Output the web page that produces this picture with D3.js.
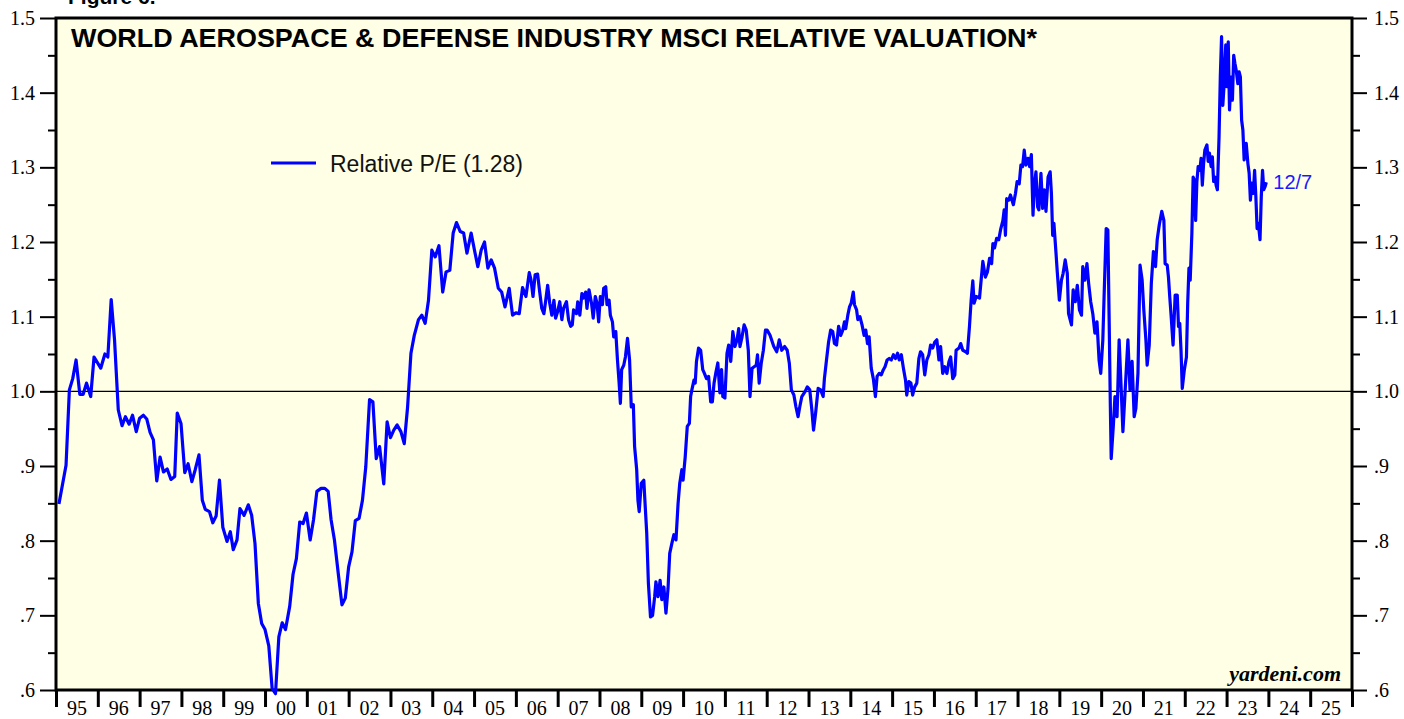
<!DOCTYPE html>
<html>
<head>
<meta charset="utf-8">
<script src="https://cdn.jsdelivr.net/npm/d3@7"></script>
<style>
  body { margin: 0; background: #fff; }
  svg { display: block; }
</style>
</head>
<body>
<script>
// Relative P/E readings, [decimal year, value], split by period
const pe1995_1999 = [
  [1995.07,0.849],[1995.24,0.901],[1995.32,1.002],[1995.40,1.017],[1995.48,1.042],[1995.57,0.996],
  [1995.65,0.996],[1995.73,1.011],[1995.83,0.993],[1995.91,1.046],[1996.07,1.031],[1996.17,1.050],
  [1996.24,1.046],[1996.32,1.123],[1996.40,1.069],[1996.49,0.975],[1996.58,0.954],[1996.66,0.966],
  [1996.75,0.956],[1996.83,0.968],[1996.92,0.946],[1997.00,0.964],[1997.09,0.968],[1997.17,0.963],
  [1997.25,0.945],[1997.33,0.935],[1997.41,0.880],[1997.49,0.912],[1997.57,0.892],[1997.66,0.896],
  [1997.75,0.882],[1997.84,0.886],[1997.90,0.971],[1997.99,0.957],[1998.08,0.891],[1998.16,0.903],
  [1998.25,0.879],[1998.33,0.895],[1998.42,0.915],[1998.50,0.854],[1998.57,0.842],[1998.67,0.839],
  [1998.75,0.824],[1998.83,0.833],[1998.91,0.881],[1998.99,0.818],[1999.09,0.799],[1999.17,0.812],
  [1999.24,0.788],[1999.33,0.801],[1999.40,0.843],[1999.50,0.834],[1999.60,0.848],[1999.68,0.834],
  [1999.76,0.796],[1999.84,0.716],[1999.92,0.689]
];
const pe2000_2005 = [
  [2000.00,0.681],[2000.09,0.659],[2000.17,0.602],[2000.25,0.595],[2000.33,0.671],[2000.41,0.690],
  [2000.49,0.681],[2000.59,0.712],[2000.67,0.755],[2000.75,0.776],[2000.83,0.825],[2000.91,0.823],
  [2000.99,0.837],[2001.08,0.801],[2001.16,0.828],[2001.24,0.866],[2001.34,0.870],[2001.43,0.870],
  [2001.51,0.866],[2001.58,0.828],[2001.66,0.801],[2001.76,0.752],[2001.84,0.714],[2001.92,0.723],
  [2002.00,0.765],[2002.08,0.785],[2002.16,0.827],[2002.25,0.830],[2002.33,0.854],[2002.41,0.899],
  [2002.50,0.989],[2002.58,0.986],[2002.66,0.910],[2002.74,0.926],[2002.84,0.876],[2002.92,0.959],
  [2003.00,0.938],[2003.08,0.948],[2003.16,0.955],[2003.25,0.946],[2003.33,0.930],[2003.41,0.979],
  [2003.49,1.051],[2003.57,1.075],[2003.67,1.096],[2003.75,1.102],[2003.83,1.091],[2003.91,1.122],
  [2003.99,1.189],[2004.07,1.180],[2004.16,1.195],[2004.25,1.133],[2004.33,1.160],[2004.42,1.162],
  [2004.50,1.212],[2004.58,1.226],[2004.67,1.214],[2004.75,1.212],[2004.83,1.185],[2004.93,1.212],
  [2005.01,1.189],[2005.09,1.167],[2005.17,1.189],[2005.25,1.200],[2005.33,1.165],[2005.41,1.176],
  [2005.49,1.165],[2005.58,1.138],[2005.66,1.133],[2005.74,1.113],[2005.84,1.138],[2005.92,1.102]
];
const pe2006_2011 = [
  [2006.00,1.105],[2006.08,1.104],[2006.16,1.139],[2006.24,1.127],[2006.32,1.159],[2006.36,1.150],
  [2006.41,1.127],[2006.46,1.156],[2006.52,1.157],[2006.57,1.133],[2006.62,1.111],[2006.67,1.104],
  [2006.71,1.120],[2006.76,1.142],[2006.81,1.118],[2006.86,1.102],[2006.91,1.122],[2006.95,1.098],
  [2007.00,1.107],[2007.05,1.120],[2007.10,1.096],[2007.14,1.111],[2007.21,1.120],[2007.26,1.096],
  [2007.31,1.087],[2007.35,1.089],[2007.38,1.109],[2007.45,1.104],[2007.48,1.120],[2007.53,1.102],
  [2007.58,1.131],[2007.62,1.125],[2007.67,1.133],[2007.70,1.111],[2007.75,1.136],[2007.81,1.118],
  [2007.85,1.098],[2007.90,1.127],[2007.94,1.118],[2007.98,1.093],[2008.02,1.127],[2008.07,1.116],
  [2008.10,1.138],[2008.15,1.140],[2008.18,1.116],[2008.23,1.122],[2008.26,1.102],[2008.31,1.093],
  [2008.34,1.073],[2008.39,1.080],[2008.43,1.042],[2008.47,1.011],[2008.50,0.984],[2008.53,1.029],
  [2008.58,1.035],[2008.62,1.046],[2008.67,1.071],[2008.72,1.042],[2008.76,0.979],[2008.81,0.982],
  [2008.84,0.926],[2008.89,0.895],[2008.92,0.854],[2008.95,0.839],[2009.00,0.877],[2009.06,0.881],
  [2009.09,0.850],[2009.13,0.810],[2009.17,0.743],[2009.22,0.698],[2009.27,0.700],[2009.32,0.725],
  [2009.35,0.745],[2009.40,0.725],[2009.45,0.747],[2009.49,0.721],[2009.54,0.738],[2009.59,0.703],
  [2009.64,0.736],[2009.68,0.783],[2009.73,0.796],[2009.78,0.808],[2009.83,0.801],[2009.88,0.850],
  [2009.92,0.877],[2009.97,0.895],[2010.00,0.881],[2010.05,0.912],[2010.10,0.953],[2010.15,0.957],
  [2010.18,0.993],[2010.21,1.002],[2010.26,1.015],[2010.29,1.011],[2010.32,1.040],[2010.37,1.058],
  [2010.42,1.055],[2010.47,1.029],[2010.51,1.024],[2010.56,1.017],[2010.61,1.020],[2010.66,0.986],
  [2010.70,0.986],[2010.74,1.011],[2010.78,1.024],[2010.83,1.038],[2010.88,0.998],[2010.92,1.029],
  [2010.95,0.993],[2011.00,0.991],[2011.05,1.051],[2011.09,1.062],[2011.14,1.040],[2011.19,1.080],
  [2011.24,1.060],[2011.29,1.069],[2011.33,1.084],[2011.36,1.060],[2011.41,1.073],[2011.46,1.089],
  [2011.51,1.082],[2011.56,1.055],[2011.60,0.993],[2011.65,1.031],[2011.70,1.033],[2011.75,1.035],
  [2011.78,1.049],[2011.82,1.011],[2011.87,1.038],[2011.92,1.055],[2011.97,1.082]
];
const pe2012_2016 = [
  [2012.01,1.082],[2012.08,1.075],[2012.17,1.060],[2012.24,1.053],[2012.30,1.069],[2012.36,1.055],
  [2012.43,1.060],[2012.49,1.055],[2012.54,1.038],[2012.59,1.002],[2012.65,0.995],[2012.70,0.979],
  [2012.75,0.966],[2012.79,0.979],[2012.84,0.993],[2012.92,1.000],[2012.97,1.006],[2013.03,1.002],
  [2013.08,0.975],[2013.12,0.948],[2013.17,0.971],[2013.23,1.004],[2013.29,1.002],[2013.35,0.993],
  [2013.38,1.017],[2013.43,1.042],[2013.48,1.066],[2013.53,1.082],[2013.58,1.080],[2013.62,1.064],
  [2013.67,1.062],[2013.72,1.087],[2013.77,1.075],[2013.82,1.082],[2013.86,1.093],[2013.89,1.084],
  [2013.94,1.102],[2013.98,1.113],[2014.02,1.118],[2014.07,1.133],[2014.10,1.116],[2014.15,1.109],
  [2014.18,1.096],[2014.23,1.100],[2014.28,1.089],[2014.33,1.075],[2014.37,1.082],[2014.41,1.064],
  [2014.45,1.073],[2014.50,1.031],[2014.55,1.017],[2014.60,0.993],[2014.64,1.020],[2014.69,1.024],
  [2014.74,1.022],[2014.79,1.029],[2014.83,1.033],[2014.88,1.042],[2014.93,1.044],[2014.98,1.042],
  [2015.03,1.049],[2015.08,1.044],[2015.13,1.051],[2015.17,1.042],[2015.22,1.049],[2015.27,1.031],
  [2015.32,1.015],[2015.35,0.995],[2015.40,1.013],[2015.45,1.011],[2015.49,0.995],[2015.54,1.006],
  [2015.59,1.011],[2015.64,1.044],[2015.68,1.053],[2015.73,1.049],[2015.78,1.022],[2015.83,1.042],
  [2015.88,1.049],[2015.92,1.062],[2015.97,1.058],[2016.02,1.066],[2016.07,1.069],[2016.12,1.042],
  [2016.16,1.060],[2016.21,1.024],[2016.26,1.033],[2016.31,1.024],[2016.36,1.040],[2016.40,1.046],
  [2016.45,1.017],[2016.50,1.022],[2016.53,1.055],[2016.60,1.058],[2016.64,1.064],[2016.69,1.055],
  [2016.76,1.053],[2016.80,1.051],[2016.85,1.087],[2016.89,1.122],[2016.93,1.148],[2016.96,1.118]
];
const pe2017_2020 = [
  [2017.01,1.127],[2017.09,1.125],[2017.17,1.174],[2017.23,1.153],[2017.28,1.160],[2017.33,1.178],
  [2017.38,1.171],[2017.41,1.198],[2017.45,1.192],[2017.50,1.205],[2017.55,1.203],[2017.60,1.218],
  [2017.65,1.229],[2017.68,1.243],[2017.71,1.209],[2017.74,1.258],[2017.79,1.256],[2017.83,1.263],
  [2017.90,1.250],[2017.95,1.265],[2017.99,1.281],[2018.04,1.278],[2018.08,1.303],[2018.12,1.301],
  [2018.16,1.323],[2018.20,1.303],[2018.25,1.312],[2018.29,1.301],[2018.33,1.317],[2018.37,1.236],
  [2018.40,1.274],[2018.44,1.294],[2018.48,1.247],[2018.51,1.243],[2018.56,1.292],[2018.60,1.245],
  [2018.64,1.270],[2018.68,1.241],[2018.73,1.287],[2018.78,1.294],[2018.81,1.265],[2018.84,1.209],
  [2018.87,1.225],[2018.92,1.185],[2018.95,1.160],[2019.00,1.122],[2019.05,1.149],[2019.09,1.158],
  [2019.14,1.176],[2019.19,1.158],[2019.22,1.104],[2019.29,1.089],[2019.33,1.136],[2019.38,1.120],
  [2019.43,1.142],[2019.48,1.109],[2019.53,1.102],[2019.56,1.167],[2019.61,1.149],[2019.66,1.171],
  [2019.70,1.145],[2019.75,1.120],[2019.80,1.104],[2019.85,1.078],[2019.90,1.093],[2019.95,1.042],
  [2019.99,1.024],[2020.04,1.069],[2020.07,1.127],[2020.12,1.218],[2020.16,1.216],[2020.19,1.100],
  [2020.22,0.979],[2020.24,0.910],[2020.29,0.953],[2020.33,0.993],[2020.38,0.966],[2020.43,1.069],
  [2020.48,1.002],[2020.52,0.946],[2020.57,0.997],[2020.64,1.069],[2020.69,1.002],[2020.74,1.040],
  [2020.79,0.966],[2020.83,0.977],[2020.88,1.024],[2020.93,1.169],[2020.98,1.149]
];
const pe2021_2023 = [
  [2021.02,1.109],[2021.07,1.069],[2021.10,1.035],[2021.15,1.062],[2021.20,1.145],[2021.25,1.187],
  [2021.30,1.167],[2021.34,1.203],[2021.39,1.223],[2021.45,1.241],[2021.50,1.229],[2021.53,1.171],
  [2021.58,1.169],[2021.61,1.153],[2021.64,1.127],[2021.67,1.104],[2021.72,1.062],[2021.77,1.129],
  [2021.82,1.129],[2021.85,1.087],[2021.88,1.091],[2021.91,1.055],[2021.94,1.004],[2021.99,1.029],
  [2022.04,1.046],[2022.07,1.118],[2022.10,1.165],[2022.13,1.149],[2022.17,1.212],[2022.20,1.287],
  [2022.23,1.283],[2022.26,1.229],[2022.29,1.281],[2022.32,1.301],[2022.36,1.296],[2022.39,1.312],
  [2022.42,1.276],[2022.45,1.305],[2022.48,1.323],[2022.53,1.330],[2022.56,1.308],[2022.59,1.319],
  [2022.63,1.301],[2022.66,1.314],[2022.69,1.281],[2022.72,1.287],[2022.75,1.276],[2022.78,1.270],
  [2022.82,1.341],[2022.85,1.421],[2022.88,1.475],[2022.91,1.383],[2022.94,1.410],[2022.98,1.464],
  [2023.01,1.408],[2023.04,1.468],[2023.07,1.377],[2023.11,1.421],[2023.14,1.390],[2023.17,1.450],
  [2023.20,1.439],[2023.23,1.430],[2023.27,1.412],[2023.30,1.428],[2023.33,1.421],[2023.36,1.363],
  [2023.39,1.350],[2023.42,1.310],[2023.47,1.332],[2023.51,1.305],[2023.54,1.292],[2023.57,1.256],
  [2023.60,1.279],[2023.64,1.265],[2023.67,1.296],[2023.70,1.261],[2023.73,1.218],[2023.76,1.225],
  [2023.80,1.203],[2023.83,1.261],[2023.86,1.296],[2023.89,1.270],[2023.92,1.274],[2023.95,1.280]
];

const yTicks = [0.6, 0.7, 0.8, 0.9, 1.0, 1.1, 1.2, 1.3, 1.4, 1.5];
const yMinorTicks = [0.65, 0.75, 0.85, 0.95, 1.05, 1.15, 1.25, 1.35, 1.45];
const yTickLabels = [".6", ".7", ".8", ".9", "1.0", "1.1", "1.2", "1.3", "1.4", "1.5"];
const years = d3.range(1995, 2026);
const yearLabels = ["95","96","97","98","99","00","01","02","03","04","05","06","07","08","09",
  "10","11","12","13","14","15","16","17","18","19","20","21","22","23","24","25"];

const title = "WORLD AEROSPACE & DEFENSE INDUSTRY MSCI RELATIVE VALUATION*";
const legendLabel = "Relative P/E (1.28)";
const lastDateLabel = "12/7";

const series = [].concat(pe1995_1999, pe2000_2005, pe2006_2011, pe2012_2016, pe2017_2020, pe2021_2023);

const W = 1404, H = 719;
const plotLeft = 56, plotRight = 1352, plotTop = 18, plotBottom = 690;

const svg = d3.select("body").append("svg")
    .attr("width", W)
    .attr("height", H);

const x = d3.scaleLinear().domain([1995, 2026]).range([plotLeft, plotRight]);
const y = d3.scaleLinear().domain([0.6, 1.5]).range([plotBottom, plotTop]);

// plot background
svg.append("rect")
    .attr("x", plotLeft).attr("y", plotTop)
    .attr("width", plotRight - plotLeft).attr("height", plotBottom - plotTop)
    .attr("fill", "#ffffe5");

// 1.0 reference line
svg.append("line")
    .attr("x1", plotLeft).attr("x2", plotRight)
    .attr("y1", y(1.0)).attr("y2", y(1.0))
    .attr("stroke", "#000").attr("stroke-width", 1.2);

const serif = "'Liberation Serif', 'Times New Roman', serif";
const sans = "'Liberation Sans', Arial, sans-serif";

function styleAxis(g) {
    g.select(".domain").remove();
    g.selectAll(".tick line").attr("stroke", "#000").attr("stroke-width", 2);
    g.selectAll("text").attr("font-family", serif).attr("font-size", 20).attr("fill", "#000");
}

const fmtY = v => yTickLabels[yTicks.findIndex(t => Math.abs(t - v) < 1e-6)];

// left axis
svg.append("g").attr("transform", `translate(${plotLeft},0)`)
    .call(d3.axisLeft(y).tickValues(yTicks).tickSize(16).tickPadding(5).tickFormat(fmtY))
    .call(styleAxis);
svg.append("g").attr("transform", `translate(${plotLeft},0)`)
    .call(d3.axisLeft(y).tickValues(yMinorTicks).tickSize(8).tickFormat(""))
    .call(styleAxis);

// right axis
svg.append("g").attr("transform", `translate(${plotRight},0)`)
    .call(d3.axisRight(y).tickValues(yTicks).tickSize(15).tickPadding(7).tickFormat(fmtY))
    .call(styleAxis);
svg.append("g").attr("transform", `translate(${plotRight},0)`)
    .call(d3.axisRight(y).tickValues(yMinorTicks).tickSize(8).tickFormat(""))
    .call(styleAxis);

// bottom axis: ticks at year boundaries, labels centred in each year
svg.append("g").attr("transform", `translate(0,${plotBottom})`)
    .call(d3.axisBottom(x).tickValues(d3.range(1995, 2027)).tickSize(17).tickFormat(""))
    .call(styleAxis)
    .selectAll(".tick line").attr("stroke-width", 3);

svg.append("g")
    .selectAll("text")
    .data(years)
    .enter()
    .append("text")
    .attr("x", d => x(d + 0.5))
    .attr("y", 715)
    .attr("text-anchor", "middle")
    .attr("font-family", serif)
    .attr("font-size", 20)
    .text((d, i) => yearLabels[i]);

// frame
svg.append("rect")
    .attr("x", plotLeft).attr("y", plotTop)
    .attr("width", plotRight - plotLeft).attr("height", plotBottom - plotTop)
    .attr("fill", "none")
    .attr("stroke", "#000")
    .attr("stroke-width", 3);

// series line
const line = d3.line()
    .x(d => x(d[0]))
    .y(d => y(d[1]));

svg.append("path")
    .datum(series)
    .attr("d", line)
    .attr("fill", "none")
    .attr("stroke", "#0000ff")
    .attr("stroke-width", 3.2)
    .attr("stroke-linejoin", "round");

// titles
svg.append("text")
    .attr("x", 68).attr("y", 4)
    .attr("font-family", sans).attr("font-weight", "bold").attr("font-size", 21)
    .text("Figure 6.");

svg.append("text")
    .attr("x", 71).attr("y", 47)
    .attr("font-family", sans).attr("font-weight", "bold").attr("font-size", 26)
    .attr("textLength", 966).attr("lengthAdjust", "spacingAndGlyphs")
    .text(title);

// legend
svg.append("line")
    .attr("x1", 271).attr("x2", 316)
    .attr("y1", 163).attr("y2", 163)
    .attr("stroke", "#0000ff").attr("stroke-width", 3);
svg.append("text")
    .attr("x", 330).attr("y", 172)
    .attr("font-family", sans).attr("font-size", 23)
    .attr("fill", "#111")
    .text(legendLabel);

// last date label
const last = series[series.length - 1];
svg.append("text")
    .attr("x", x(last[0]) + 7).attr("y", y(last[1]) + 7)
    .attr("font-family", sans).attr("font-size", 20)
    .attr("fill", "#1a1aff")
    .text(lastDateLabel);

// source
svg.append("text")
    .attr("x", 1341).attr("y", 681)
    .attr("text-anchor", "end")
    .attr("font-family", serif).attr("font-weight", "bold").attr("font-style", "italic")
    .attr("font-size", 22)
    .text("yardeni.com");
</script>
</body>
</html>
